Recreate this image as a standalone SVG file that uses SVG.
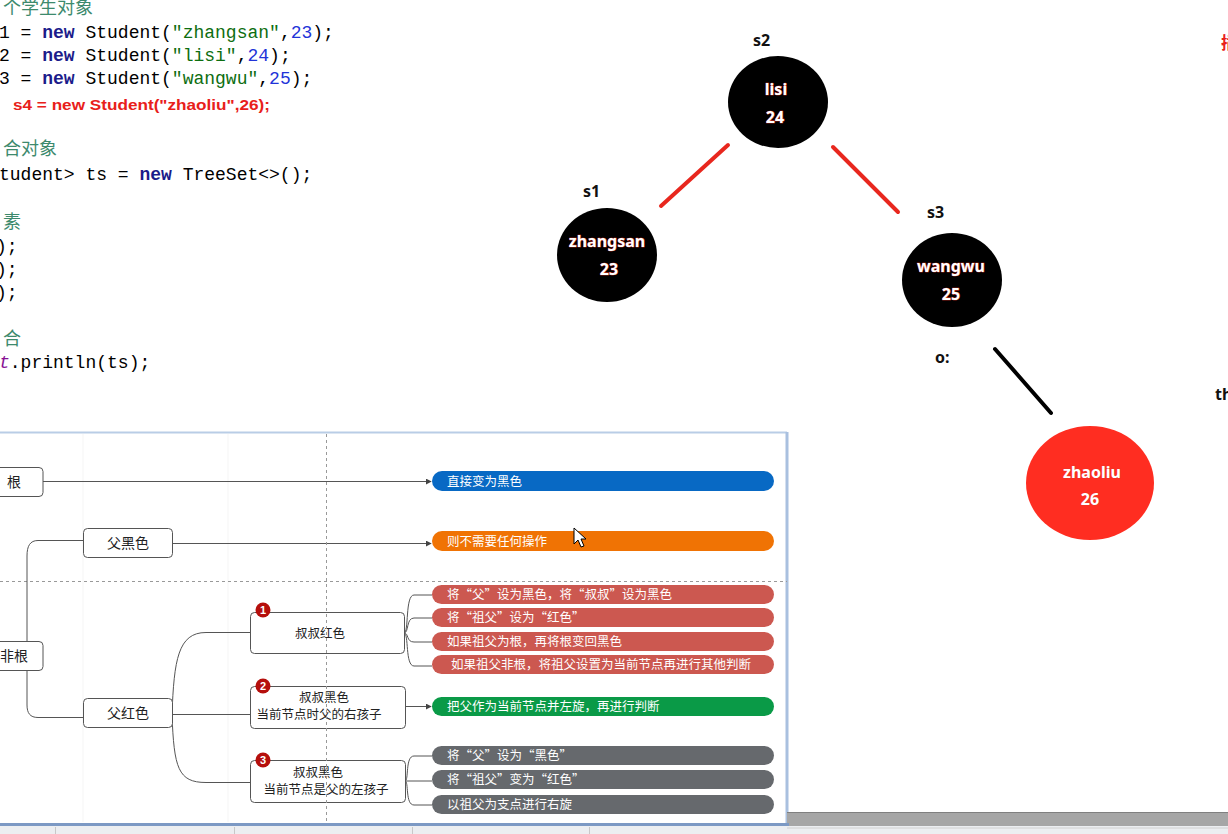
<svg xmlns="http://www.w3.org/2000/svg" width="1228" height="834" viewBox="0 0 1228 834">
<style>
.code{font-family:"Liberation Mono","Noto Sans CJK SC",monospace;font-size:18px;fill:#000}
.cmt{font-family:"Noto Sans CJK SC",sans-serif;font-size:18px;fill:#3d8a6d}
.kw{fill:#1b1b8a;font-weight:bold}
.str{fill:#0d6e10}
.num{fill:#2233d8}
.lbl{font-family:"Noto Sans","Liberation Sans",sans-serif;font-size:16px;font-weight:bold;fill:#111}
.ntx{font-family:"Noto Sans","Liberation Sans",sans-serif;font-size:16px;font-weight:bold;fill:#fff;stroke:#e23a2a;stroke-width:0.7;paint-order:stroke;text-anchor:middle}
.edge-red{stroke:#e8271e;stroke-width:4;stroke-linecap:round}
.edge-blk{stroke:#000;stroke-width:4;stroke-linecap:round}
.box{fill:#fff;stroke:#555;stroke-width:1}
.btx{font-family:"Noto Sans CJK SC",sans-serif;font-size:14px;fill:#222;text-anchor:middle}
.btx2{font-family:"Noto Sans CJK SC",sans-serif;font-size:12.5px;fill:#222;text-anchor:middle}
.ptx{font-family:"Noto Sans CJK SC",sans-serif;font-size:12.5px;fill:#fff}
.mm{fill:none;stroke:#555;stroke-width:1}
.badge{fill:#b50f0c}
.btxt{font-family:"Liberation Sans",sans-serif;font-size:11px;font-weight:bold;fill:#fff;text-anchor:middle}
</style>
<defs>
<marker id="arr" viewBox="0 0 8 8" refX="7" refY="4" markerWidth="6" markerHeight="6" markerUnits="userSpaceOnUse" orient="auto">
<path d="M0,0 L8,4 L0,8 z" fill="#444"/>
</marker>
</defs>
<rect width="1228" height="834" fill="#fff"/>

<!-- code area -->
<g id="code">
<text class="cmt" x="3" y="14">个学生对象</text>
<text class="code" x="-1" y="38">1 = <tspan class="kw">new</tspan> Student(<tspan class="str">"zhangsan"</tspan>,<tspan class="num">23</tspan>);</text>
<text class="code" x="-1" y="61">2 = <tspan class="kw">new</tspan> Student(<tspan class="str">"lisi"</tspan>,<tspan class="num">24</tspan>);</text>
<text class="code" x="-1" y="84">3 = <tspan class="kw">new</tspan> Student(<tspan class="str">"wangwu"</tspan>,<tspan class="num">25</tspan>);</text>
<text x="13" y="110" font-family="Liberation Sans,sans-serif" font-size="15" font-weight="bold" fill="#e8201a" textLength="257" lengthAdjust="spacingAndGlyphs">s4 = new Student("zhaoliu",26);</text>
<text class="cmt" x="3" y="155">合对象</text>
<text class="code" x="-1" y="180">tudent&gt; ts = <tspan class="kw">new</tspan> TreeSet&lt;&gt;();</text>
<text class="cmt" x="3" y="228">素</text>
<text class="code" x="-4" y="252">);</text>
<text class="code" x="-4" y="275">);</text>
<text class="code" x="-4" y="298">);</text>
<text class="cmt" x="3" y="345">合</text>
<text class="code" x="-1" y="368"><tspan fill="#871094" font-style="italic">t</tspan>.println(ts);</text>
</g>

<!-- tree connectors -->
<g id="tree-edges">
<line class="edge-red" x1="728" y1="145" x2="661" y2="206"/>
<line class="edge-red" x1="833" y1="147" x2="898" y2="212"/>
<line class="edge-blk" x1="995" y1="349" x2="1051" y2="413"/>
</g>

<g id="node-s2">
<text class="lbl" x="753" y="46">s2</text>
<ellipse cx="778" cy="102" rx="50" ry="46" fill="#000"/>
<text class="ntx" x="776" y="95">lisi</text>
<text class="ntx" x="775" y="123">24</text>
</g>
<g id="node-s1">
<text class="lbl" x="583" y="197">s1</text>
<ellipse cx="607" cy="255" rx="50" ry="47" fill="#000"/>
<text class="ntx" x="607" y="247">zhangsan</text>
<text class="ntx" x="609" y="275">23</text>
</g>
<g id="node-s3">
<text class="lbl" x="927" y="218">s3</text>
<ellipse cx="952" cy="280" rx="50" ry="47" fill="#000"/>
<text class="ntx" x="951" y="272">wangwu</text>
<text class="ntx" x="951" y="300">25</text>
</g>
<g id="node-o">
<text class="lbl" x="935" y="363">o:</text>
<ellipse cx="1090" cy="483" rx="64" ry="57" fill="#ff2d21"/>
<text class="ntx" x="1092" y="478">zhaoliu</text>
<text class="ntx" x="1090" y="505">26</text>
</g>

<g id="edge-texts">
<text x="1221" y="49" font-family="Noto Sans CJK SC,sans-serif" font-size="17" font-weight="bold" fill="#e8201a">插</text>
<text class="lbl" x="1215" y="400">th</text>
</g>

<!-- mindmap panel -->
<g id="panel">
<rect x="0" y="432" width="787" height="393" fill="#fff"/>
<line x1="0" y1="432.5" x2="787" y2="432.5" stroke="#b9cde6" stroke-width="2"/>
<line x1="787" y1="432" x2="787" y2="825" stroke="#a9c0df" stroke-width="3"/>
<line x1="83" y1="434" x2="83" y2="822" stroke="#f5f5f5"/>
<line x1="228" y1="434" x2="228" y2="822" stroke="#f5f5f5"/>
<line x1="0" y1="581.5" x2="787" y2="581.5" stroke="#999" stroke-dasharray="3,3"/>
</g>

<g id="mm-connectors">
<line class="mm" x1="43" y1="481.5" x2="431" y2="481.5" marker-end="url(#arr)"/>
<line class="mm" x1="172" y1="543.5" x2="431" y2="543.5" marker-end="url(#arr)"/>
<path class="mm" d="M83,540.5 H38 C30,540.5 27,546 27,556 V705 C27,713 30,717.5 38,717.5 H83"/>
<path class="mm" d="M172,714.5 C174,660 178,632.5 206,632.5 H250"/>
<path class="mm" d="M172,714.5 H250"/>
<path class="mm" d="M172,714.5 C174,768 178,782.5 206,782.5 H250"/>
<path class="mm" d="M404,633 C409,633 405,595 414,595 H432"/>
<path class="mm" d="M404,633 C409,633 406,618 414,618 H432"/>
<path class="mm" d="M404,633 C409,633 406,642 414,642 H432"/>
<path class="mm" d="M404,633 C409,633 405,666 414,666 H432"/>
<line class="mm" x1="405" y1="706.5" x2="431" y2="706.5" marker-end="url(#arr)"/>
<path class="mm" d="M405,781 C409,781 405,756 414,756 H432"/>
<path class="mm" d="M405,781 H432"/>
<path class="mm" d="M405,781 C409,781 405,805 414,805 H432"/>
</g>

<g id="mm-root">
<rect class="box" x="-10" y="467.5" width="53" height="29" rx="4"/>
<text class="btx" x="14" y="487">根</text>
</g>
<g id="mm-nonroot">
<rect class="box" x="-10" y="641.5" width="53" height="29" rx="4"/>
<text class="btx" x="14" y="661">非根</text>
</g>
<g id="mm-fatherblack">
<rect class="box" x="83.5" y="528.5" width="89" height="29" rx="4"/>
<text class="btx" x="128" y="548">父黑色</text>
</g>
<g id="mm-fatherred">
<rect class="box" x="83.5" y="698.5" width="89" height="29" rx="4"/>
<text class="btx" x="128" y="718">父红色</text>
</g>
<g id="mm-case1">
<rect class="box" x="250.5" y="612.5" width="154" height="41" rx="4"/>
<text class="btx2" x="320" y="638">叔叔红色</text>
<circle class="badge" cx="263" cy="610" r="7.5"/>
<text class="btxt" x="263" y="614">1</text>
</g>
<g id="mm-case2">
<rect class="box" x="250.5" y="686.5" width="155" height="42" rx="4"/>
<text class="btx2" x="324" y="702">叔叔黑色</text>
<text class="btx2" x="319" y="719">当前节点时父的右孩子</text>
<circle class="badge" cx="263" cy="686" r="7.5"/>
<text class="btxt" x="263" y="690">2</text>
</g>
<g id="mm-case3">
<rect class="box" x="250.5" y="760.5" width="155" height="42" rx="4"/>
<text class="btx2" x="318" y="777">叔叔黑色</text>
<text class="btx2" x="326" y="794">当前节点是父的左孩子</text>
<circle class="badge" cx="263" cy="760" r="7.5"/>
<text class="btxt" x="263" y="764">3</text>
</g>

<g id="mm-pill-blue"><rect x="432" y="471" width="342" height="20" rx="10" fill="#0869c4"/><text class="ptx" x="447" y="485.5">直接变为黑色</text></g>
<g id="mm-pill-orange"><rect x="432" y="531" width="342" height="20" rx="10" fill="#f07304"/><text class="ptx" x="447" y="545.5">则不需要任何操作</text></g>
<g id="mm-pill-r1"><rect x="432" y="585" width="342" height="19" rx="9.5" fill="#cc5850"/><text class="ptx" x="447" y="599">将“父”设为黑色，将“叔叔”设为黑色</text></g>
<g id="mm-pill-r2"><rect x="432" y="608" width="342" height="19" rx="9.5" fill="#cc5850"/><text class="ptx" x="447" y="622">将“祖父”设为“红色”</text></g>
<g id="mm-pill-r3"><rect x="432" y="632" width="342" height="19" rx="9.5" fill="#cc5850"/><text class="ptx" x="447" y="646">如果祖父为根，再将根变回黑色</text></g>
<g id="mm-pill-r4"><rect x="432" y="655" width="342" height="19" rx="9.5" fill="#cc5850"/><text class="ptx" x="451" y="669">如果祖父非根，将祖父设置为当前节点再进行其他判断</text></g>
<g id="mm-pill-green"><rect x="432" y="697" width="342" height="19" rx="9.5" fill="#0a9a47"/><text class="ptx" x="447" y="711">把父作为当前节点并左旋，再进行判断</text></g>
<g id="mm-pill-g1"><rect x="432" y="746" width="342" height="19" rx="9.5" fill="#66696d"/><text class="ptx" x="447" y="760">将“父”设为“黑色”</text></g>
<g id="mm-pill-g2"><rect x="432" y="770" width="342" height="19" rx="9.5" fill="#66696d"/><text class="ptx" x="447" y="784">将“祖父”变为“红色”</text></g>
<g id="mm-pill-g3"><rect x="432" y="795" width="342" height="19" rx="9.5" fill="#66696d"/><text class="ptx" x="447" y="809">以祖父为支点进行右旋</text></g>

<g id="overlay">
<line x1="326.5" y1="434" x2="326.5" y2="823" stroke="#999" stroke-dasharray="3,3"/>
<polygon points="574,528 574,544 578,540 581,547 584,546 581,539 586,539" fill="#fff" stroke="#000" stroke-width="1"/>
</g>

<g id="bottom-bar">
<rect x="787" y="812" width="441" height="16" fill="#a6a6a6"/>
<line x1="787" y1="812.5" x2="1228" y2="812.5" stroke="#808080"/>
<rect x="0" y="823" width="789" height="3" fill="#7c99c4"/>
<rect x="0" y="826" width="1228" height="8" fill="#eceef1"/>
<line x1="787" y1="828" x2="1228" y2="828" stroke="#d0d0d0"/>
<line x1="55.5" y1="827" x2="55.5" y2="834" stroke="#c8c8c8"/>
<line x1="234.5" y1="827" x2="234.5" y2="834" stroke="#c8c8c8"/>
<line x1="412.5" y1="827" x2="412.5" y2="834" stroke="#c8c8c8"/>
<line x1="589.5" y1="827" x2="589.5" y2="834" stroke="#c8c8c8"/>
</g>
</svg>
